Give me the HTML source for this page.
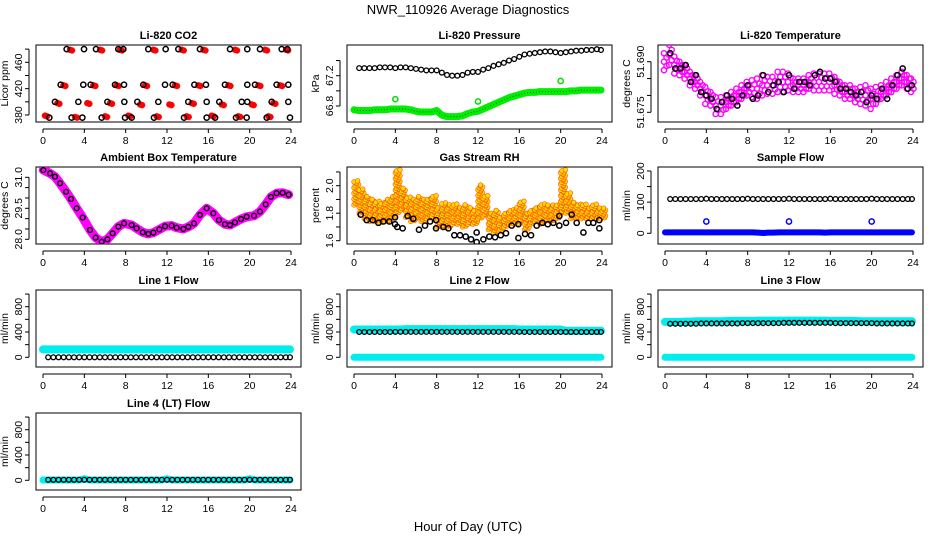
<!DOCTYPE html>
<html><head><meta charset="utf-8"><style>
html,body{margin:0;padding:0;background:#fff;}
svg{display:block;font-family:"Liberation Sans",Arial,sans-serif;}
</style></head><body>
<svg id="chart" width="936" height="540" viewBox="0 0 936 540" xmlns="http://www.w3.org/2000/svg">
<text x="468" y="14" text-anchor="middle" font-size="13">NWR_110926  Average Diagnostics</text>
<text x="468" y="531" text-anchor="middle" font-size="13">Hour of Day (UTC)</text>
</svg>
<script>
// ---------- data ----------
const hours48=[0.5,1,1.5,2,2.5,3,3.5,4,4.5,5,5.5,6,6.5,7,7.5,8,8.5,9,9.5,10,10.5,11,11.5,12,12.5,13,13.5,14,14.5,15,15.5,16,16.5,17,17.5,18,18.5,19,19.5,20,20.5,21,21.5,22,22.5,23,23.5,23.9];
const hours49=[0,0.5,1,1.5,2,2.5,3,3.5,4,4.5,5,5.5,6,6.5,7,7.5,8,8.5,9,9.5,10,10.5,11,11.5,12,12.5,13,13.5,14,14.5,15,15.5,16,16.5,17,17.5,18,18.5,19,19.5,20,20.5,21,21.5,22,22.5,23,23.5,23.9];

const co2BlackH=[2.29,3.97,5.13,7.29,7.77,10.19,11.87,13.10,15.19,18.10,19.77,21.0,23.10,23.64, 1.71,3.90,4.61,6.97,7.84,9.71,11.81,12.55,14.65,15.77,17.61,19.77,20.52,22.61,23.74, 1.16,3.42,6.23,7.87,9.13,11.16,14.06,15.84,17.06,19.23,19.77,22.13,23.74, 0.61,2.77,3.81,5.68,7.94,8.58,10.74,13.65,15.84,16.65,18.68,19.71,21.65,23.90];
const co2BlackV=[480,480,480,480,480,480,480,480,480,480,480,480,480,480, 426,426,426,426,426,426,426,426,426,426,426,426,426,426,426, 400,400,400,400,400,400,400,400,400,400,400,400,400, 376,376,376,376,376,376,376,376,376,376,376,376,376,376];
const co2RedH=[2.61,5.52,7.45,10.68,13.42,15.52,18.58,21.48,23.52, 1.97,4.87,7.13,9.87,12.77,15.03,17.94,20.84,22.94, 1.39,4.29,6.48,9.39,12.23,14.39,17.29,20.19,22.29, 0.19,3.10,6.0,8.26,11.0,13.90,16.32,18.90,21.81];
const co2RedV=[479,479,479,479,479,479,479,479,479, 425,425,425,425,425,425,425,425,425, 398,398,398,396,396,398,396,396,398, 379,377,378,379,378,378,379,378,378];

const presBlack=[67.30,67.30,67.30,67.30,67.31,67.31,67.31,67.30,67.31,67.31,67.30,67.29,67.28,67.27,67.27,67.27,67.24,67.21,67.20,67.20,67.21,67.24,67.25,67.25,67.28,67.30,67.33,67.35,67.37,67.40,67.42,67.45,67.48,67.49,67.50,67.51,67.52,67.52,67.51,67.50,67.51,67.52,67.53,67.53,67.54,67.54,67.55,67.54];
const presGreen=[66.75,66.74,66.74,66.74,66.75,66.75,66.75,66.76,66.76,66.76,66.76,66.75,66.73,66.72,66.72,66.72,66.74,66.68,66.66,66.66,66.66,66.67,66.70,66.72,66.73,66.76,66.79,66.82,66.85,66.88,66.91,66.93,66.95,66.97,66.98,66.98,66.99,66.99,66.99,66.99,66.99,66.99,67.00,67.00,67.01,67.01,67.01,67.01,67.01];
const presGreenOutH=[4,12,20];
const presGreenOutV=[66.89,66.86,67.13];

const tempMid=[51.690,51.692,51.689,51.688,51.687,51.685,51.684,51.682,51.680,51.679,51.677,51.677,51.678,51.679,51.680,51.681,51.682,51.682,51.682,51.683,51.683,51.683,51.684,51.684,51.684,51.683,51.683,51.683,51.684,51.684,51.684,51.684,51.684,51.683,51.682,51.681,51.681,51.680,51.680,51.680,51.679,51.680,51.681,51.682,51.683,51.684,51.685,51.684,51.683];
const tempSpread=[0.005,0.006,0.005,0.004,0.004,0.004,0.004,0.004,0.005,0.004,0.005,0.005,0.004,0.004,0.004,0.004,0.004,0.005,0.006,0.006,0.005,0.005,0.006,0.006,0.005,0.004,0.004,0.004,0.004,0.005,0.005,0.005,0.005,0.005,0.004,0.004,0.004,0.004,0.005,0.006,0.006,0.005,0.004,0.004,0.004,0.004,0.004,0.004,0.004];
const tempBlack=[51.6925,51.688,51.688,51.689,51.684,51.686,51.681,51.680,51.679,51.676,51.678,51.680,51.679,51.677,51.680,51.683,51.679,51.680,51.686,51.681,51.683,51.684,51.681,51.686,51.682,51.684,51.684,51.683,51.686,51.687,51.685,51.685,51.684,51.682,51.682,51.681,51.680,51.681,51.678,51.680,51.679,51.682,51.679,51.683,51.686,51.688,51.682,51.683];

const ambH=[0.03,0.68,1.16,1.65,2.23,2.71,3.26,3.84,4.55,5.10,5.68,6.23,6.74,7.29,7.84,8.58,9.06,9.65,10.19,10.68,11.26,11.81,12.45,12.94,13.58,14.06,14.61,15.19,15.84,16.48,17.03,17.61,18.10,18.58,19.16,19.71,20.42,21.0,21.55,22.06,22.61,23.19,23.77];
const ambV=[31.35,31.19,31.03,30.71,30.30,29.95,29.50,29.05,28.45,28.08,27.88,28.0,28.29,28.61,28.77,28.69,28.53,28.34,28.26,28.32,28.48,28.63,28.66,28.56,28.50,28.60,28.77,29.18,29.50,29.26,28.93,28.73,28.69,28.82,28.98,29.09,29.14,29.34,29.69,30.05,30.23,30.25,30.16];

const rhLo=[1.86,1.80,1.76,1.74,1.74,1.73,1.74,1.76,1.80,1.82,1.77,1.74,1.76,1.74,1.76,1.78,1.70,1.70,1.70,1.72,1.72,1.70,1.72,1.72,1.76,1.78,1.68,1.66,1.67,1.70,1.72,1.72,1.74,1.68,1.72,1.74,1.72,1.74,1.74,1.76,1.80,1.80,1.76,1.76,1.76,1.76,1.76,1.76,1.76];
const rhHi=[2.04,1.98,1.92,1.90,1.88,1.88,1.90,1.92,2.12,1.98,1.92,1.90,1.92,1.90,1.90,1.92,1.84,1.88,1.86,1.86,1.84,1.86,1.84,1.82,2.00,1.92,1.80,1.82,1.78,1.80,1.82,1.84,1.88,1.80,1.82,1.84,1.86,1.86,1.86,1.86,2.12,1.94,1.88,1.86,1.86,1.84,1.86,1.84,1.84];
const rhBlackH=[0.65,1.23,1.81,2.36,2.84,3.42,3.97,3.97,4.19,4.71,5.19,5.74,6.29,6.87,7.36,7.94,7.94,8.65,9.13,9.71,10.26,10.81,11.33,11.87,11.87,12.52,13.10,13.65,14.20,14.71,15.26,15.91,15.91,16.55,17.13,17.68,18.23,18.75,19.29,19.87,19.87,20.52,21.07,21.55,22.20,22.68,23.16,23.74,23.74];
const rhBlackV=[1.79,1.75,1.75,1.73,1.74,1.74,1.77,1.72,1.70,1.69,1.78,1.76,1.68,1.71,1.74,1.75,1.69,1.70,1.69,1.64,1.64,1.63,1.61,1.66,1.59,1.61,1.63,1.625,1.64,1.654,1.71,1.72,1.62,1.649,1.64,1.71,1.73,1.72,1.73,1.78,1.71,1.73,1.79,1.73,1.66,1.73,1.73,1.75,1.69];

const sampleBlack=[110,110,110,110,110,110,110,111,110,110,110,110,110,110,110,111,110,110,110,110,110,110,110,111,110,110,110,110,110,110,110,111,110,110,110,110,110,110,110,111,110,110,110,110,110,110,110,110];
const sampleBlue=[3,3,3,3,3,3,3,3,3,3,3,3,3,3,3,3,3,3,2,1,2,2,3,3,3,3,3,3,3,3,3,2,3,3,3,3,3,3,3,3,3,3,3,3,3,3,3,3,3];
const sampleBlueOutH=[4,12,20];
const sampleBlueOutV=[38,38,38];

const line1Black=[0,0,0,0,0,0,0,0,0,0,0,0,0,0,0,0,0,0,0,0,0,0,0,0,0,0,0,0,0,0,0,0,0,0,0,0,0,0,0,0,0,0,0,0,0,0,0,0];
const line1Cyan=[125,125,125,125,125,125,125,125,125,125,125,125,125,125,125,125,125,125,125,125,125,125,125,125,125,125,125,125,125,125,125,125,125,125,125,125,125,125,125,125,125,125,125,125,125,125,125,125,125];
const line2Black=[400,400,400,400,400,400,400,402,402,402,402,402,402,402,402,402,402,402,402,402,402,402,402,402,402,402,402,402,402,402,402,402,400,400,400,400,400,400,400,400,400,400,400,400,400,400,400,400];
const line2CyanHi=[440,440,440,440,440,440,440,440,440,440,445,445,445,445,445,445,445,445,445,445,445,445,445,445,445,445,445,445,445,445,445,445,440,440,440,440,440,440,440,440,440,420,420,420,420,420,420,420,420];
const line2CyanLo=[0,0,0,0,0,0,0,0,0,0,0,0,0,0,0,0,0,0,0,0,0,0,0,0,0,0,0,0,0,0,0,0,0,0,0,0,0,0,0,0,0,0,0,0,0,0,0,0,0];
const line3Black=[530,530,530,530,530,530,535,535,535,535,535,535,535,535,540,540,540,540,540,540,540,540,545,545,545,545,545,545,545,545,545,545,540,540,540,540,540,540,540,540,535,535,535,535,535,535,535,535];
const line3CyanHi=[560,560,560,560,565,565,570,570,570,570,570,570,575,575,575,575,575,575,580,580,580,580,580,580,580,580,580,580,580,580,580,580,575,575,575,575,575,575,570,570,570,570,570,570,570,570,570,570,570];
const line3CyanLo=[0,0,0,0,0,0,0,0,0,0,0,0,0,0,0,0,0,0,0,0,0,0,0,0,0,0,0,0,0,0,0,0,0,0,0,0,0,0,0,0,0,0,0,0,0,0,0,0,0];
const line4Black=[8,8,8,8,8,8,8,8,8,8,8,8,8,8,8,8,8,8,8,8,8,8,8,8,8,8,8,8,8,8,8,8,8,8,8,8,8,8,8,8,8,8,8,8,8,8,8,8];
const line4Cyan=[5,5,5,5,5,5,5,5,25,5,5,5,5,5,5,5,5,5,5,5,5,5,5,5,25,5,5,5,5,5,5,5,5,5,5,5,5,5,5,5,25,5,5,5,5,5,5,5,5];

// ---------- drawing ----------
const NS="http://www.w3.org/2000/svg";
const svg=document.getElementById('chart');
const colLeft=[36,347,658], rowTop=[45,167,290,413], BW=265, BH=77;
function el(parent,tag,attrs,name){
  const e=document.createElementNS(NS,tag);
  for(const k in attrs) e.setAttribute(k,attrs[k]);
  
  
  parent.appendChild(e);return e;
}
function panel(c,r,title,ylab,v0,p0,v1,p1,ticks,labels,id){
  const L=colLeft[c],T=rowTop[r];
  const g=el(svg,'g',{},id+'-panel');
  const x=h=>L+7+h*248/24;
  const y=v=>T+p0+(v-v0)*(p1-p0)/(v1-v0);
  el(g,'text',{x:L+BW/2,y:T-6,'text-anchor':'middle','font-size':11,'font-weight':'bold'},id+'-title').textContent=title;
  el(g,'rect',{x:L,y:T,width:BW,height:BH,fill:'none',stroke:'#000','stroke-width':1},id+'-plot-box');
  const ax=el(g,'g',{stroke:'#000','stroke-width':1},id+'-x-axis');
  el(ax,'line',{x1:x(0),x2:x(24),y1:T+BH+7,y2:T+BH+7},id+'-x-axis-line');
  [0,4,8,12,16,20,24].forEach(t=>{
    el(ax,'line',{x1:x(t),x2:x(t),y1:T+BH+7,y2:T+BH+11},id+'-x-tick');
    el(g,'text',{x:x(t),y:T+BH+22,'text-anchor':'middle','font-size':10.5},id+'-x-tick-label').textContent=t;
  });
  const ay=el(g,'g',{stroke:'#000','stroke-width':1},id+'-y-axis');
  el(ay,'line',{x1:L-7,x2:L-7,y1:y(ticks[0]),y2:y(ticks[ticks.length-1])},id+'-y-axis-line');
  ticks.forEach(t=>el(ay,'line',{x1:L-7,x2:L-11,y1:y(t),y2:y(t)},id+'-y-tick'));
  labels.forEach(t=>{
    const yy=y(t);
    el(g,'text',{x:L-14,y:yy,'text-anchor':'middle','font-size':10.5,transform:`rotate(-90 ${L-14} ${yy})`},id+'-y-tick-label').textContent=t;
  });
  const yc=T+BH/2;
  el(g,'text',{x:L-28,y:yc,'text-anchor':'middle','font-size':10.5,transform:`rotate(-90 ${L-28} ${yc})`},id+'-y-axis-title').textContent=ylab;
  const clip=el(svg,'clipPath',{id:'clip'+id},id+'-clip');
  el(clip,'rect',{x:L,y:T,width:BW,height:BH},id+'-clip-rect');
  const d=el(g,'g',{'clip-path':`url(#clip${id})`},id+'-data');
  return {g:d,x,y};
}
function circ(P,h,v,color,name,fill,r,sw){
  return el(P.g,'circle',{cx:P.x(h),cy:P.y(v),r:r||2.6,fill:fill||'none',stroke:color,'stroke-width':sw||1.5},name);
}
function band(P,hs,vs,color,w,name){
  el(P.g,'polyline',{points:hs.map((h,i)=>P.x(h)+','+P.y(vs[i])).join(' '),fill:'none',stroke:color,'stroke-width':w,'stroke-linecap':'round','stroke-linejoin':'round'},name);
}

// CO2
let P=panel(0,0,'Li-820 CO2','Licor ppm',380,70,460,17.3,[380,400,420,440,460,480],[380,420,460],'co2');
co2RedH.forEach((h,i)=>{
  circ(P,h,co2RedV[i],'#f00','co2-red-point','#f00',3,0.5);
  circ(P,h+0.2,co2RedV[i]-1,'#f00','co2-red-point','#f00',3,0.5);
});
co2BlackH.forEach((h,i)=>circ(P,h,co2BlackV[i],'#000','co2-black-point'));

// Pressure
P=panel(1,0,'Li-820 Pressure','kPa',66.8,61,67.2,30.7,[66.8,67.0,67.2,67.4],[66.8,67.2],'pressure');
band(P,hours49,presGreen,'#00ee00',7,'pressure-green-series');
el(P.g,'polyline',{points:hours49.map((h,i)=>P.x(h)+','+P.y(presGreen[i])).join(' '),fill:'none',stroke:'#060','stroke-width':1,'stroke-dasharray':'1 2'},'pressure-green-dots');
presGreenOutH.forEach((h,i)=>circ(P,h,presGreenOutV[i],'#0d0','pressure-green-outlier'));
hours48.forEach((h,i)=>circ(P,h,presBlack[i],'#000','pressure-black-point',null,2.4,1.3));

// Temperature
P=panel(2,0,'Li-820 Temperature','degrees C',51.675,67.3,51.690,16.7,[51.675,51.680,51.685,51.690],['51.675','51.690'],'li-temp');
hours49.forEach((h,i)=>{
  const m=tempMid[i],s=tempSpread[i];
  [-0.5,-0.25,0,0.25,0.5].forEach((k,j)=>{
    circ(P,h+(j%2?0.15:-0.1),m+k*s,'#f0f','li-temp-magenta-point',null,2.6,1.4);
  });
});
hours48.forEach((h,i)=>circ(P,h,tempBlack[i],'#000','li-temp-black-point'));

// Ambient
P=panel(0,1,'Ambient Box Temperature','degrees C',28.0,72.3,31.0,10.3,[28.0,28.5,29.0,29.5,30.0,30.5,31.0],['28.0','29.5','31.0'],'ambient');
band(P,ambH,ambV,'#f0f',9,'ambient-magenta-series');
ambH.forEach((h,i)=>circ(P,h,ambV[i],'#000','ambient-black-point',null,2.4,1.4));

// RH
P=panel(1,1,'Gas Stream RH','percent',1.6,73.7,2.0,18.7,[1.6,1.7,1.8,1.9,2.0,2.1],['1.6','1.8','2.0'],'rh');
hours49.forEach((h,i)=>{
  let k=0;
  for(let v=rhLo[i];v<=rhHi[i]+0.001;v+=0.014){
    circ(P,h+(k%3)*0.12,v,'#f40','rh-orange-point','#ffdd00',2.3,0.6);
    circ(P,h+0.25+((k+1)%3)*0.1,v+0.007,'#f40','rh-orange-point','#ffdd00',2.3,0.6);
    k++;
  }
});
rhBlackH.forEach((h,i)=>circ(P,h,rhBlackV[i],'#000','rh-black-point'));

// Sample flow
P=panel(2,1,'Sample Flow','ml/min',0,66.3,200,4,[0,50,100,150,200],[0,100,200],'sample');
band(P,hours49,sampleBlue,'#00f',6,'sample-blue-series');
sampleBlueOutH.forEach((h,i)=>circ(P,h,sampleBlueOutV[i],'#00f','sample-blue-outlier'));
hours48.forEach((h,i)=>circ(P,h,sampleBlack[i],'#000','sample-black-point',null,2.4,1.3));

// Line flows
const fT=[0,200,400,600,800,1000], fL=[0,400,800];
P=panel(0,2,'Line 1 Flow','ml/min',0,67.3,800,16.7,fT,fL,'line1');
band(P,hours49,line1Cyan,'#0ee',8,'line1-cyan-series');
hours48.forEach((h,i)=>circ(P,h,line1Black[i],'#000','line1-black-point',null,2.4,1.3));

P=panel(1,2,'Line 2 Flow','ml/min',0,67.3,800,16.7,fT,fL,'line2');
band(P,hours49,line2CyanHi,'#0ee',8,'line2-cyan-upper-series');
band(P,hours49,line2CyanLo,'#0ee',7,'line2-cyan-lower-series');
hours48.forEach((h,i)=>circ(P,h,line2Black[i],'#000','line2-black-point',null,2.4,1.3));

P=panel(2,2,'Line 3 Flow','ml/min',0,67.3,800,16.7,fT,fL,'line3');
band(P,hours49,line3CyanHi,'#0ee',8,'line3-cyan-upper-series');
band(P,hours49,line3CyanLo,'#0ee',7,'line3-cyan-lower-series');
hours48.forEach((h,i)=>circ(P,h,line3Black[i],'#000','line3-black-point',null,2.4,1.3));

P=panel(0,3,'Line 4 (LT) Flow','ml/min',0,67.3,800,16.7,fT,fL,'line4');
band(P,hours49,line4Cyan,'#0ee',7,'line4-cyan-series');
hours48.forEach((h,i)=>circ(P,h,line4Black[i],'#000','line4-black-point',null,2.4,1.3));
</script>
</body></html>
